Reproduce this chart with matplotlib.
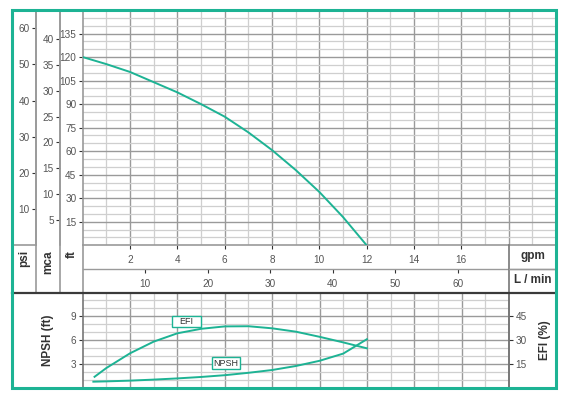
import matplotlib
matplotlib.use("Agg")
import matplotlib.pyplot as plt
from matplotlib.patches import Rectangle
from matplotlib.lines import Line2D

plt.rcParams["font.family"] = ["Liberation Sans", "DejaVu Sans"]

# ---- data ----
head_gpm = [0, 1, 2, 3, 4, 5, 6, 7, 8, 9, 10, 11, 12]
head_ft = [120, 115.5, 110.5, 104, 97.5, 90, 82, 72, 60.7, 48, 34, 18, 0]

efi_gpm = [0.5, 1, 2, 3, 4, 5, 6, 7, 8, 9, 10, 11, 12]
efi_pct = [7, 12.5, 21.7, 29, 34.2, 37, 38.5, 38.6, 37.3, 35.2, 32, 28.5, 24.8]

npsh_gpm = [0.45, 1, 2, 3, 4, 5, 6, 7, 8, 9, 10, 11, 12]
npsh_ft = [0.79, 0.83, 0.92, 1.05, 1.2, 1.38, 1.6, 1.9, 2.25, 2.75, 3.4, 4.3, 6.1]

ft_ticks = [15, 30, 45, 60, 75, 90, 105, 120, 135]
psi_ticks = [10, 20, 30, 40, 50, 60]
mca_ticks = [5, 10, 15, 20, 25, 30, 35, 40]
gpm_ticks = [2, 4, 6, 8, 10, 12, 14, 16]
lmin_ticks = [10, 20, 30, 40, 50, 60]
npsh_ticks = [3, 6, 9]
efi_ticks = [15, 30, 45]

FT_PER_PSI = 2.307
FT_PER_M = 3.281
L_PER_GAL = 3.785

GREEN = "#1db394"
MAJ = "#9a9a9a"
MIN = "#cfcfcf"
DARK = "#3a3a3a"
TXT = "#555555"

W, H = 570, 398
fig = plt.figure(figsize=(W / 100, H / 100), dpi=100)


def box(x0, y0, x1, y1):
    # pixel box (top-left origin) -> figure fraction rect
    return [x0 / W, 1 - y1 / H, (x1 - x0) / W, (y1 - y0) / H]


def fig_line(xs, ys, color, lw):
    fig.add_artist(Line2D([x / W for x in xs], [1 - y / H for y in ys],
                          color=color, lw=lw, transform=fig.transFigure))


X0, XR, XE = 82.7, 509, 556
YT, YB1, YM, YB2, YB = 10, 245.3, 269, 293, 388
tick_kw = dict(direction="out", length=3, width=0.8, color="#333333",
               labelsize=7.2, labelcolor=TXT)

# ---- upper head plot ----
ax = fig.add_axes(box(X0, YT, XE, YB1))
ax.set_xlim(0, 20)
ax.set_ylim(0, 150)
for v in range(1, 20):
    ax.axvline(v, color=MAJ if v % 2 == 0 else MIN, lw=1.0 if v % 2 == 0 else 0.9, zorder=1)
for v in range(5, 150, 5):
    ax.axhline(v, color=MAJ if v % 15 == 0 else MIN, lw=1.0 if v % 15 == 0 else 0.9, zorder=1)
ax.plot(head_gpm, head_ft, color=GREEN, lw=1.4, zorder=3)
ax.set_yticks(ft_ticks)
ax.set_xticks(gpm_ticks)
ax.tick_params(axis="y", pad=1.5, **tick_kw)
ax.tick_params(axis="x", pad=4, **tick_kw)
for s in ["top", "right"]:
    ax.spines[s].set_visible(False)
ax.spines["left"].set_color(MAJ)
ax.spines["left"].set_linewidth(1.2)
ax.spines["bottom"].set_color(MAJ)
ax.spines["bottom"].set_linewidth(1.2)

# ---- psi and mca columns ----
for xl, top, ticks in [(36, 150 / FT_PER_PSI, psi_ticks), (60, 150 / FT_PER_M, mca_ticks)]:
    a = fig.add_axes(box(xl, YT, xl + 20, YB1))
    a.set_ylim(0, top)
    a.set_xticks([])
    a.set_yticks(ticks)
    a.tick_params(axis="y", pad=1.5, **tick_kw)
    for s in ["top", "right", "bottom"]:
        a.spines[s].set_visible(False)
    a.spines["left"].set_color(MAJ)
    a.spines["left"].set_linewidth(1.2)
    a.patch.set_alpha(0)

# ---- L/min row ----
ar = fig.add_axes(box(X0, YB1, XE, YM))
ar.set_xlim(0, 20 * L_PER_GAL)
ar.set_ylim(0, 1)
ar.set_yticks([])
ar.set_xticks(lmin_ticks)
ar.tick_params(axis="x", pad=4, **tick_kw)
for s in ["top", "right", "left"]:
    ar.spines[s].set_visible(False)
ar.spines["bottom"].set_color(MAJ)
ar.spines["bottom"].set_linewidth(1.0)
ar.patch.set_alpha(0)

# ---- lower NPSH / EFI plot ----
an = fig.add_axes(box(X0, YB2, XR, YB))
an.set_xlim(0, 18)
an.set_ylim(0, (YB - YB2) / 8)
for v in range(1, 18):
    an.axvline(v, color=MAJ if v % 2 == 0 else MIN, lw=1.0 if v % 2 == 0 else 0.9, zorder=1)
for v in range(1, 12):
    an.axhline(v, color=MAJ if v % 3 == 0 else MIN, lw=1.0 if v % 3 == 0 else 0.9, zorder=1)
an.plot(npsh_gpm, npsh_ft, color=GREEN, lw=1.4, zorder=3)
an.set_xticks([])
an.set_yticks(npsh_ticks)
an.tick_params(axis="y", pad=1.5, **tick_kw)
for s in ["top", "bottom"]:
    an.spines[s].set_visible(False)
for s in ["left", "right"]:
    an.spines[s].set_color("#777777")
    an.spines[s].set_linewidth(1.2)

ae = an.twinx()
ae.set_ylim(0, (YB - YB2) / 8 * 5)
ae.plot(efi_gpm, efi_pct, color=GREEN, lw=1.4, zorder=3)
ae.set_yticks(efi_ticks)
ae.tick_params(axis="y", pad=1.5, **tick_kw)
for s in ["top", "bottom", "left", "right"]:
    ae.spines[s].set_visible(False)

# curve labels: fixed-size boxes (in NPSH axes units)
for txt, x0, x1, y0, y1 in [("EFI", 3.78, 5.0, 7.62, 9.0), ("NPSH", 5.47, 6.65, 2.38, 3.84)]:
    ae.add_patch(Rectangle((x0, y0 * 5), x1 - x0, (y1 - y0) * 5, fc="white",
                           ec=GREEN, lw=1.0, zorder=5))
    ae.text((x0 + x1) / 2, (y0 + y1) / 2 * 5, txt, fontsize=6.5, color="#333333",
            ha="center", va="center", zorder=6)

# ---- frame lines ----
fig_line([12, 36], [YB1, YB1], MAJ, 1.2)
fig_line([36, 36], [YT, YB2], MAJ, 1.2)
fig_line([60, 60], [YT, YB2], MAJ, 1.2)
fig_line([X0, X0], [YB1, YB2], MAJ, 1.2)
fig_line([XR, XR], [YB1, YB], "#777777", 1.2)
fig_line([XR, XE], [YM, YM], MAJ, 1.0)
fig_line([12, XE], [YB2, YB2], DARK, 1.6)

fig.add_artist(Rectangle((12 / W, 1 - 387.5 / H), (XE - 12) / W, (387.5 - YT) / H,
                         fill=False, ec=GREEN, lw=2.2, transform=fig.transFigure, zorder=10))

# ---- unit labels ----
lab = dict(fontsize=8.5, fontweight="bold", color="#333333")
fig.text(24 / W, 1 - 250 / H, "psi", rotation=90, ha="center", va="top", **lab)
fig.text(48 / W, 1 - 250 / H, "mca", rotation=90, ha="center", va="top", **lab)
fig.text(71.5 / W, 1 - 250 / H, "ft", rotation=90, ha="center", va="top", **lab)
fig.text(533 / W, 1 - 256 / H, "gpm", ha="center", va="center", **lab)
fig.text(533 / W, 1 - 280 / H, "L / min", ha="center", va="center", **lab)
fig.text(48 / W, 1 - 340 / H, "NPSH (ft)", rotation=90, ha="center", va="center", **lab)
fig.text(545 / W, 1 - 340 / H, "EFI (%)", rotation=90, ha="center", va="center", **lab)

fig.savefig("out.png", dpi=100, facecolor="white")
